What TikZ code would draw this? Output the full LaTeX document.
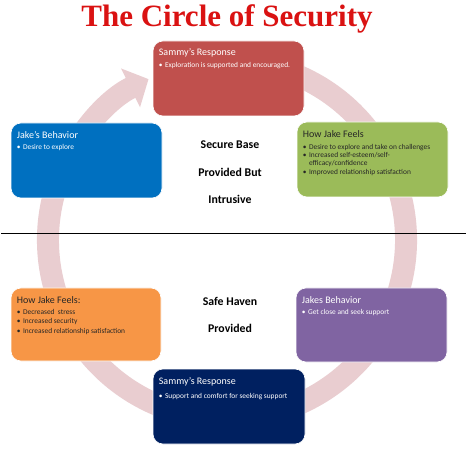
\documentclass[tikz,border=0pt]{standalone}
\usepackage{fontspec}
\setmainfont{Carlito}
\newfontfamily\titlefont{Liberation Serif}
\usetikzlibrary{arrows.meta}
\definecolor{ringc}{RGB}{233,205,208}
\definecolor{titlered}{RGB}{218,18,18}
\definecolor{cred}{RGB}{192,80,77}
\definecolor{cblue}{RGB}{0,112,192}
\definecolor{cgreen}{RGB}{155,187,89}
\definecolor{corange}{RGB}{247,150,70}
\definecolor{cpurple}{RGB}{128,100,162}
\definecolor{cnavy}{RGB}{0,32,96}
\newcommand\bu{\textbullet\hspace{2.5pt}}
\tikzset{
  box/.style={rounded corners=10pt, draw=white, line width=0.6pt, minimum width=151pt, minimum height=75pt, inner sep=0pt},
  hdr/.style={anchor=west, inner sep=0pt, font=\fontsize{10}{12}\selectfont},
  bul/.style={anchor=north west, inner sep=0pt, align=left, font=\fontsize{7.4}{8.4}\selectfont},
  mid/.style={font=\fontsize{11.8}{13}\selectfont\bfseries, inner sep=0pt},
}
\begin{document}
\begin{tikzpicture}[x=1pt,y=1pt]
\useasboundingbox (0,0) rectangle (466,453);
\fill[white] (0,0) rectangle (466,453);
% ring arrow
\coordinate (c) at (227,213);
\draw[ringc, line width=22pt, -{Triangle[length=20pt,width=42pt]}] ([shift={(430:179)}]c) arc[start angle=430, end angle=116, radius=179];
% title
\node[font=\titlefont\fontsize{31}{34}\selectfont\bfseries, text=titlered] (title) at (227,434) {The Circle of Security};
% divider
\coordinate (l) at (1,220);
\coordinate (r) at (466,220);
\draw[line width=0.9pt] (l) -- (r);
% boxes
\node[box, fill=cred] (top) at (228.5,374.5) {};
\node[hdr, text=white] (toph) at ([xshift=6pt,yshift=-12pt]top.north west) {Sammy's Response};
\node[bul, text=white] (topb) at ([xshift=6pt,yshift=-21pt]top.north west) {\bu Exploration is supported and encouraged.};

\node[box, fill=cblue] (left) at (86.5,292.5) {};
\node[hdr, text=white] (lefth) at ([xshift=6pt,yshift=-12pt]left.north west) {Jake's Behavior};
\node[bul, text=white] (leftb) at ([xshift=6pt,yshift=-21pt]left.north west) {\bu Desire to explore};

\node[box, fill=cgreen] (right) at (372.5,293.5) {};
\node[hdr, text=black!85] (righth) at ([xshift=6pt,yshift=-12pt]right.north west) {How Jake Feels};
\node[bul, text=black!85] (rightb) at ([xshift=6pt,yshift=-22pt]right.north west) {\bu Desire to explore and take on challenges\\\bu Increased self-esteem/self-\\\phantom{\bu}efficacy/confidence\\\bu Improved relationship satisfaction};

\node[box, fill=corange, minimum width=150pt, minimum height=73pt] (ol) at (86,128.5) {};
\node[hdr, text=black!85] (olh) at ([xshift=6pt,yshift=-12pt]ol.north west) {How Jake Feels:};
\node[bul, text=black!85, font=\fontsize{7.4}{9.8}\selectfont] (olb) at ([xshift=6pt,yshift=-21pt]ol.north west) {\bu Decreased \ stress\\\bu Increased security\\\bu Increased relationship satisfaction};

\node[box, fill=cpurple, minimum height=74pt] (pr) at (371.5,128) {};
\node[hdr, text=white] (prh) at ([xshift=6pt,yshift=-12pt]pr.north west) {Jakes Behavior};
\node[bul, text=white] (prb) at ([xshift=6pt,yshift=-21pt]pr.north west) {\bu Get close and seek support};

\node[box, fill=cnavy, minimum width=152pt] (bot) at (229,46.5) {};
\node[hdr, text=white] (both) at ([xshift=6pt,yshift=-13pt]bot.north west) {Sammy's Response};
\node[bul, text=white] (botb) at ([xshift=6pt,yshift=-24pt]bot.north west) {\bu Support and comfort for seeking support};
% centre labels
\node[mid] (m1) at (230,308) {Secure Base};
\node[mid] (m2) at (230,281) {Provided But};
\node[mid] (m3) at (230,254) {Intrusive};
\node[mid] (m4) at (230,152) {Safe Haven};
\node[mid] (m5) at (230,125) {Provided};
\end{tikzpicture}
\end{document}
